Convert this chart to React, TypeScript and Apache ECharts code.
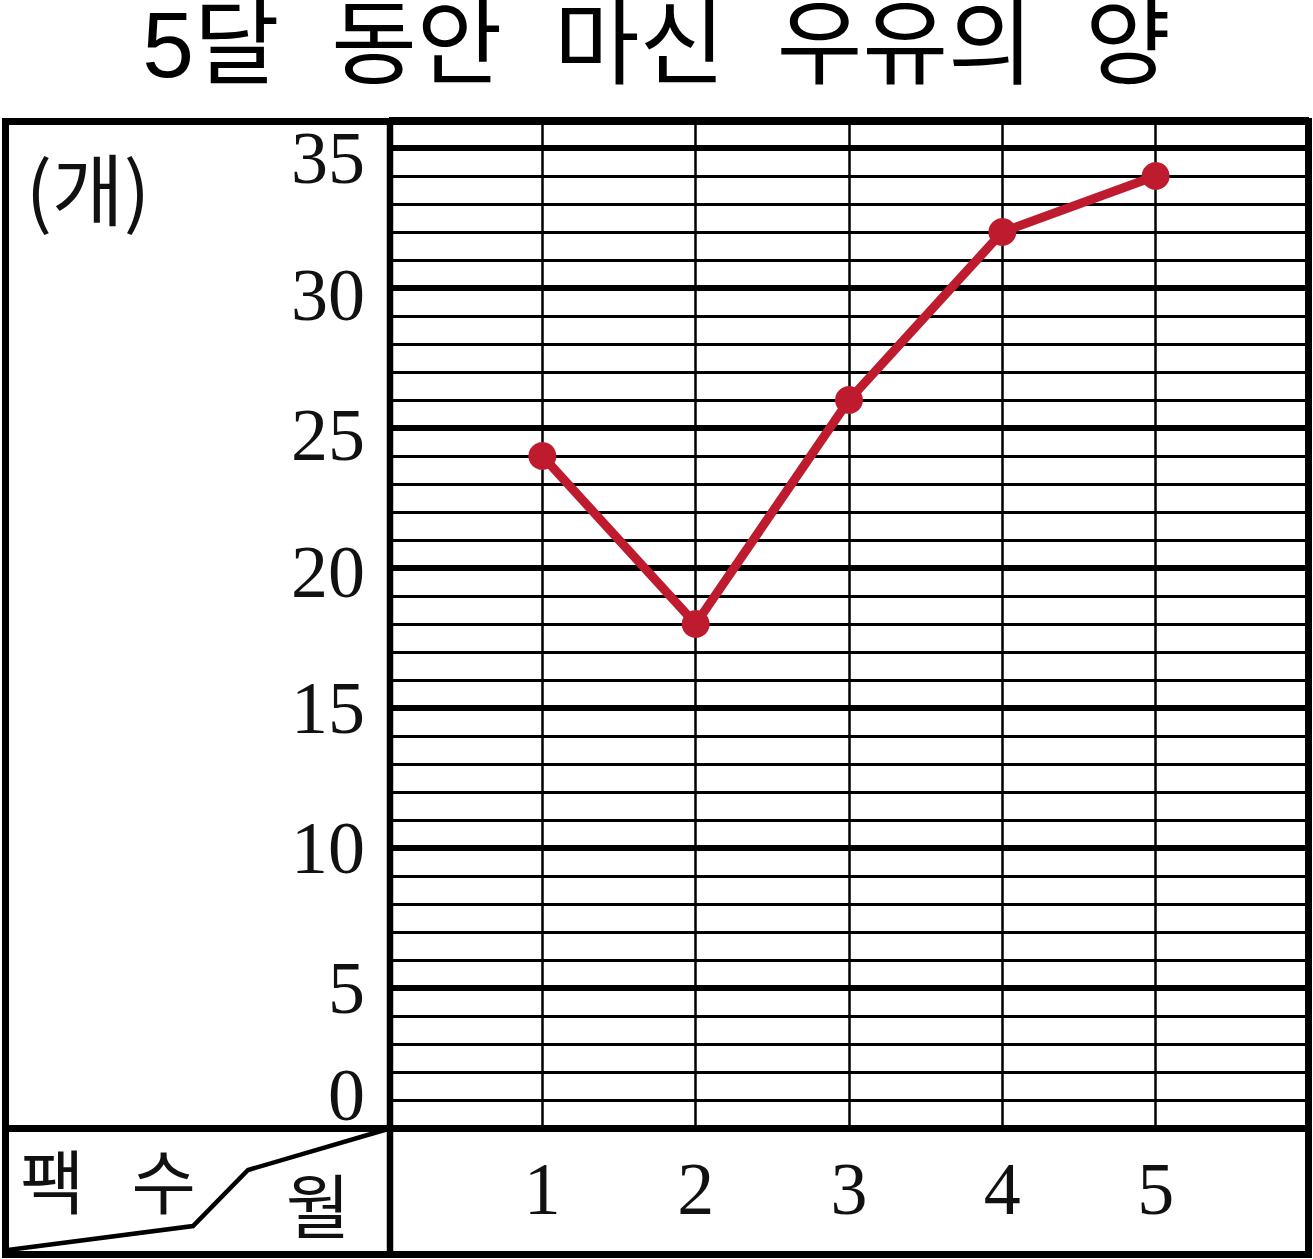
import React, { useEffect, useRef } from "react";
import * as echarts from "echarts";

const titleText = "5달  동안  마신  우유의  양";
const months = ["1", "2", "3", "4", "5"];
const milk = [24, 18, 26, 32, 34];
const yTicks = [0, 5, 10, 15, 20, 25, 30, 35];
const unitLabel = "(개)";
const cornerLeft = "팩   수";
const cornerRight = "월";

const SERIF = "'Liberation Serif', 'DejaVu Serif', serif";
const KR = "'Noto Sans CJK KR', 'Noto Sans', sans-serif";
const TITLE_FONT = "'Liberation Sans', 'Noto Sans CJK KR', sans-serif";

// vertical nudges of y labels (px, positive = down)
const labelNudge: Record<number, string> = { 35: "d10", 30: "d7", 25: "d7", 20: "d4", 0: "u33" };

export default function App() {
  const ref = useRef<HTMLDivElement>(null);
  useEffect(() => {
    document.body.style.margin = "0";
    const chart = echarts.init(ref.current!, null, { renderer: "svg" });
    const labelBase = { fontFamily: SERIF, fontSize: 74, color: "#111" };
    chart.setOption({
      animation: false,
      backgroundColor: "#fff",
      title: {
        text: titleText,
        left: "center",
        top: -1,
        padding: 0,
        textStyle: { fontFamily: TITLE_FONT, fontSize: 93, lineHeight: 92, fontWeight: "normal", color: "#000" },
      },
      grid: { left: 389, right: 4, top: 120, bottom: 131, containLabel: false },
      xAxis: {
        type: "value",
        min: 0,
        max: 6,
        interval: 1,
        axisLine: { show: false },
        axisTick: { show: false },
        splitLine: { show: true, lineStyle: { color: "#000", width: 2.5 } },
        axisLabel: {
          margin: 24,
          ...labelBase,
          formatter: (v: number) => (v >= 1 && v <= months.length ? months[v - 1] : ""),
        },
      },
      yAxis: [
        {
          type: "value",
          min: 0,
          max: 36,
          interval: 1,
          axisLine: { show: false },
          axisTick: { show: false },
          axisLabel: { show: false },
          splitLine: { show: true, lineStyle: { color: "#000", width: 3 } },
        },
        {
          type: "value",
          min: 0,
          max: 36,
          interval: 5,
          position: "left",
          axisLine: { show: false },
          axisTick: { show: false },
          splitLine: { show: true, lineStyle: { color: "#000", width: 6 } },
          axisLabel: {
            margin: 24,
            ...labelBase,
            formatter: (v: number) => {
              if (!yTicks.includes(v)) return "";
              const k = labelNudge[v] || "n";
              return `{${k}|${v}}`;
            },
            rich: {
              n: { ...labelBase },
              d10: { ...labelBase, padding: [20, 0, 0, 0] },
              d7: { ...labelBase, padding: [14, 0, 0, 0] },
              d4: { ...labelBase, padding: [8, 0, 0, 0] },
              u33: { ...labelBase, padding: [0, 0, 66, 0] },
            },
          },
        },
      ],
      series: [
        {
          type: "line",
          yAxisIndex: 1,
          data: milk.map((v, i) => [i + 1, v]),
          lineStyle: { color: "#BE1B2F", width: 9 },
          itemStyle: { color: "#BE1B2F" },
          symbol: "circle",
          symbolSize: 28,
          z: 5,
        },
      ],
      graphic: [
        {
          type: "rect",
          z: 100,
          shape: { x: 5.5, y: 121.5, width: 1303, height: 1133 },
          style: { fill: "none", stroke: "#000", lineWidth: 7 },
        },
        {
          type: "line",
          z: 100,
          shape: { x1: 390, y1: 121, x2: 390, y2: 1255 },
          style: { stroke: "#000", lineWidth: 6.5 },
        },
        {
          type: "line",
          z: 100,
          shape: { x1: 5, y1: 1128.5, x2: 1309, y2: 1128.5 },
          style: { stroke: "#000", lineWidth: 7 },
        },
        {
          type: "polyline",
          z: 100,
          shape: { points: [[8, 1250], [193, 1226], [248, 1170], [388, 1129]] },
          style: { stroke: "#000", lineWidth: 4.5, fill: "none" },
        },
        {
          type: "text",
          z: 100,
          x: 88,
          y: 186,
          style: { text: unitLabel, fontFamily: KR, fontSize: 78, fill: "#111", align: "center", verticalAlign: "middle" },
        },
        {
          type: "text",
          z: 100,
          x: 108,
          y: 1178,
          style: { text: cornerLeft, fontFamily: KR, fontSize: 70, fill: "#111", align: "center", verticalAlign: "middle" },
        },
        {
          type: "text",
          z: 100,
          x: 318,
          y: 1202,
          style: { text: cornerRight, fontFamily: KR, fontSize: 70, fill: "#111", align: "center", verticalAlign: "middle" },
        },
      ],
    });
    return () => chart.dispose();
  }, []);
  return <div ref={ref} style={{ width: 1313, height: 1259 }} />;
}
